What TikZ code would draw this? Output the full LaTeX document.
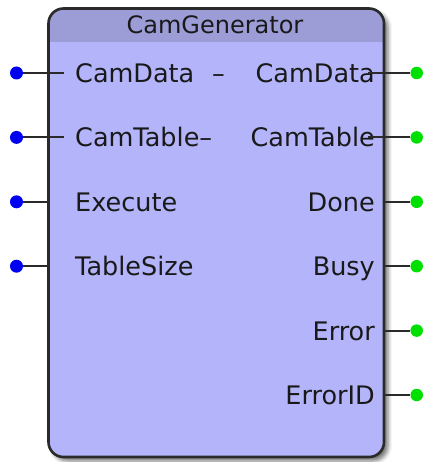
\documentclass[tikz,border=0pt]{standalone}
\usepackage{fontspec}
\setmainfont{DejaVu Sans}
\usetikzlibrary{shadows.blur}
\definecolor{bodyfill}{HTML}{B4B4FA}
\definecolor{headfill}{HTML}{9C9CD6}
\definecolor{edge}{HTML}{2A2A2A}
\definecolor{inpin}{HTML}{0000F0}
\definecolor{outpin}{HTML}{00E000}
\begin{document}
\begin{tikzpicture}[x=1pt,y=-1pt,
  pinwire/.style={draw=edge,line width=2pt},
  indot/.style={circle,fill=inpin,inner sep=0pt,minimum size=13pt},
  outdot/.style={circle,fill=outpin,inner sep=0pt,minimum size=12.5pt},
  pintext/.style={inner sep=0pt,text=black!90,font=\fontsize{25.5}{30}\selectfont},
  inlabel/.style={pintext,anchor=base west},
  outlabel/.style={pintext,anchor=base east}]
\useasboundingbox (0,0) rectangle (423,462);
% function block body with header band
\path[fill=bodyfill,rounded corners=15pt,blur shadow={shadow xshift=4pt,shadow yshift=-4pt,shadow blur radius=4pt,shadow opacity=55}]
  (48.5,8.5) rectangle (384,457);
\begin{scope}
  \clip[rounded corners=15pt] (48.5,8.5) rectangle (384,457);
  \fill[headfill] (48.5,8.5) rectangle (384,42);
\end{scope}
\draw[edge,line width=2.6pt,rounded corners=15pt] (48.5,8.5) rectangle (384,457);
\node[anchor=base,inner sep=0pt,text=black!90,font=\fontsize{24}{28}\selectfont] (title) at (215,34) {CamGenerator};
% inputs
\node[indot] (i1) at (16.5,73) {};
\node[indot] (i2) at (16.5,137.4) {};
\node[indot] (i3) at (16.5,201.8) {};
\node[indot] (i4) at (16.5,266.2) {};
\coordinate (i1e) at (64,73);
\coordinate (i2e) at (64,137.4);
\coordinate (i3e) at (48.5,201.8);
\coordinate (i4e) at (48.5,266.2);
\draw[pinwire] (i1) -- (i1e);
\draw[pinwire] (i2) -- (i2e);
\draw[pinwire] (i3) -- (i3e);
\draw[pinwire] (i4) -- (i4e);
\node[inlabel] (l1) at (75,82.5) {CamData};
\node[inlabel] (d1) at (212,82.5) {–};
\node[inlabel] (l2) at (75,146.9) {CamTable–};
\node[inlabel] (l3) at (75,211.3) {Execute};
\node[inlabel] (l4) at (75,275.7) {TableSize};
% outputs
\node[outlabel] (r1) at (375,82.5) {CamData};
\node[outlabel] (r2) at (375,146.9) {CamTable};
\node[outlabel] (r3) at (375,211.3) {Done};
\node[outlabel] (r4) at (375,275.7) {Busy};
\node[outlabel] (r5) at (375,340.1) {Error};
\node[outlabel] (r6) at (375,404.5) {ErrorID};
\node[outdot] (o1) at (416.7,73) {};
\node[outdot] (o2) at (416.7,137.4) {};
\node[outdot] (o3) at (416.7,201.8) {};
\node[outdot] (o4) at (416.7,266.2) {};
\node[outdot] (o5) at (416.7,330.6) {};
\node[outdot] (o6) at (416.7,395) {};
\coordinate (o1s) at (368,73);
\coordinate (o2s) at (368,137.4);
\coordinate (o3s) at (384,201.8);
\coordinate (o4s) at (384,266.2);
\coordinate (o5s) at (384,330.6);
\coordinate (o6s) at (384,395);
\draw[pinwire] (o1s) -- (o1);
\draw[pinwire] (o2s) -- (o2);
\draw[pinwire] (o3s) -- (o3);
\draw[pinwire] (o4s) -- (o4);
\draw[pinwire] (o5s) -- (o5);
\draw[pinwire] (o6s) -- (o6);
\end{tikzpicture}
\end{document}
